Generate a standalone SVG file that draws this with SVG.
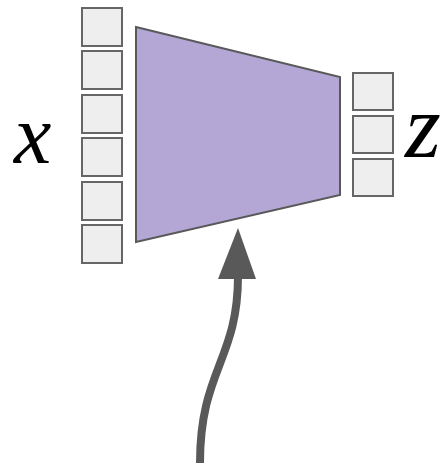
<svg xmlns="http://www.w3.org/2000/svg" width="442" height="466" viewBox="0 0 442 466">
<style>
.sq{fill:#eeeeee;stroke:#666666;stroke-width:2}
.lbl{font-family:"Liberation Serif",serif;font-style:italic;fill:#000}
</style>
<g id="input">
<rect class="sq" x="82" y="8" width="40" height="38"/>
<rect class="sq" x="82" y="51" width="40" height="38"/>
<rect class="sq" x="82" y="95" width="40" height="38"/>
<rect class="sq" x="82" y="138" width="40" height="38"/>
<rect class="sq" x="82" y="182" width="40" height="38"/>
<rect class="sq" x="82" y="225" width="40" height="38"/>
</g>
<g id="encoder">
<polygon points="136,27 340,77 340,195 136,242" fill="#b4a7d6" stroke="#595959" stroke-width="2"/>
</g>
<g id="latent">
<rect class="sq" x="353" y="73" width="40" height="37"/>
<rect class="sq" x="353" y="116" width="40" height="37"/>
<rect class="sq" x="353" y="159" width="40" height="37"/>
</g>
<g id="label-x"><text class="lbl" x="14" y="163" font-size="84">x</text></g>
<g id="label-z"><text class="lbl" x="405" y="157" font-size="92">z</text></g>
<g id="connectors">
<path d="M200,463 C200,370 238,360 238,276" fill="none" stroke="#595959" stroke-width="8"/>
<polygon points="238,228 256,279 218,279" fill="#595959"/>
</g>
</svg>
